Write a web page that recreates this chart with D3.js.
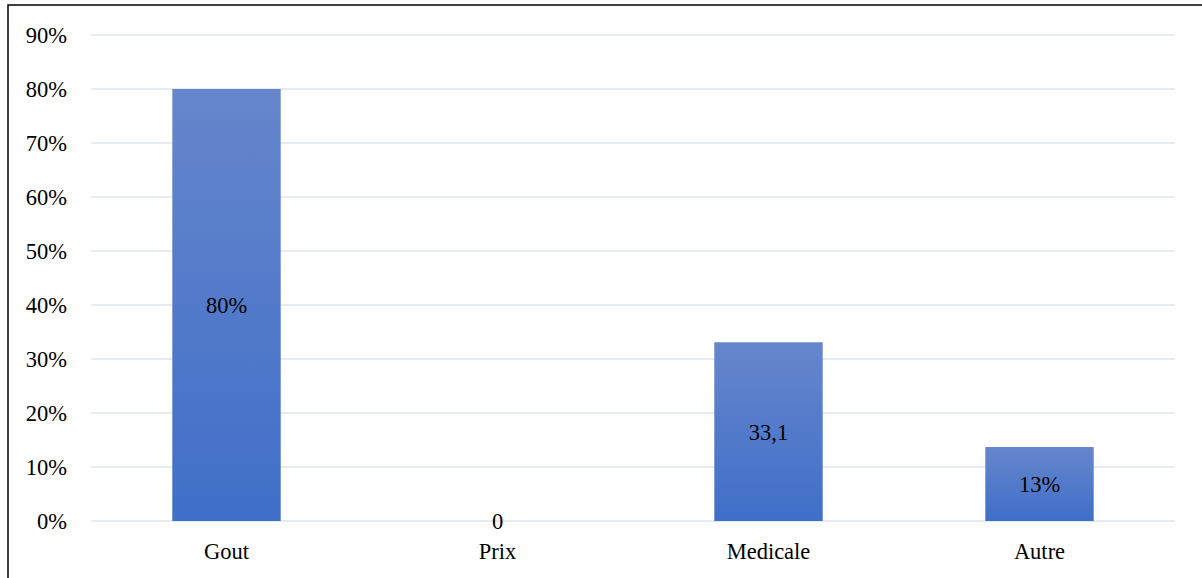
<!DOCTYPE html>
<html><head><meta charset="utf-8">
<script src="https://cdn.jsdelivr.net/npm/d3@7"></script>
<style>body{margin:0;background:#fff}svg{display:block}</style>
</head><body>
<script>
const categories = ["Gout", "Prix", "Medicale", "Autre"];
const values = [80, 0, 33.1, 13.7];
const valueLabels = ["80%", "0", "33,1", "13%"];
const yTicks = [0, 10, 20, 30, 40, 50, 60, 70, 80, 90];

const W = 1202, H = 578;
const svg = d3.select("body").append("svg").attr("width", W).attr("height", H);
const font = "Liberation Serif, Times New Roman, serif";
const fs = 22.5;

const defs = svg.append("defs");
const g = defs.append("linearGradient").attr("id", "bg").attr("x1", 0).attr("y1", 0).attr("x2", 0).attr("y2", 1);
g.append("stop").attr("offset", "0%").attr("stop-color", "#6686cc");
g.append("stop").attr("offset", "100%").attr("stop-color", "#3f6fc8");

svg.append("rect").attr("x", 8).attr("y", 5).attr("width", W + 20).attr("height", H + 20)
  .attr("fill", "none").attr("stroke", "#000").attr("stroke-width", 1.5);

const x = d3.scaleBand().domain(categories).range([91, 1175]).paddingInner(0.6).paddingOuter(0.3);
const y = d3.scaleLinear().domain([0, 90]).range([521, 35]);

svg.append("g").selectAll("line").data(yTicks).join("line")
  .attr("x1", 91).attr("x2", 1175).attr("y1", d => y(d)).attr("y2", d => y(d))
  .attr("stroke", "#e1e4ec").attr("stroke-width", 1.5);

svg.append("g").selectAll("text").data(yTicks).join("text")
  .attr("x", 67).attr("y", d => y(d)).attr("dy", "0.35em").attr("text-anchor", "end")
  .attr("font-family", font).attr("font-size", fs).attr("fill", "#000")
  .text(d => d + "%");

svg.append("g").selectAll("rect").data(values).join("rect")
  .attr("x", (d, i) => x(categories[i])).attr("width", x.bandwidth())
  .attr("y", d => y(d)).attr("height", d => y(0) - y(d))
  .attr("fill", "url(#bg)");

svg.append("g").selectAll("text").data(values).join("text")
  .attr("x", (d, i) => x(categories[i]) + x.bandwidth() / 2)
  .attr("y", d => (y(d) + y(0)) / 2).attr("dy", "0.35em")
  .attr("text-anchor", "middle").attr("font-family", font).attr("font-size", fs).attr("fill", "#000")
  .text((d, i) => valueLabels[i]);

svg.append("g").selectAll("text").data(categories).join("text")
  .attr("x", d => x(d) + x.bandwidth() / 2).attr("y", 551).attr("dy", "0.35em")
  .attr("text-anchor", "middle").attr("font-family", font).attr("font-size", fs).attr("fill", "#000")
  .text(d => d);
</script>
</body></html>
